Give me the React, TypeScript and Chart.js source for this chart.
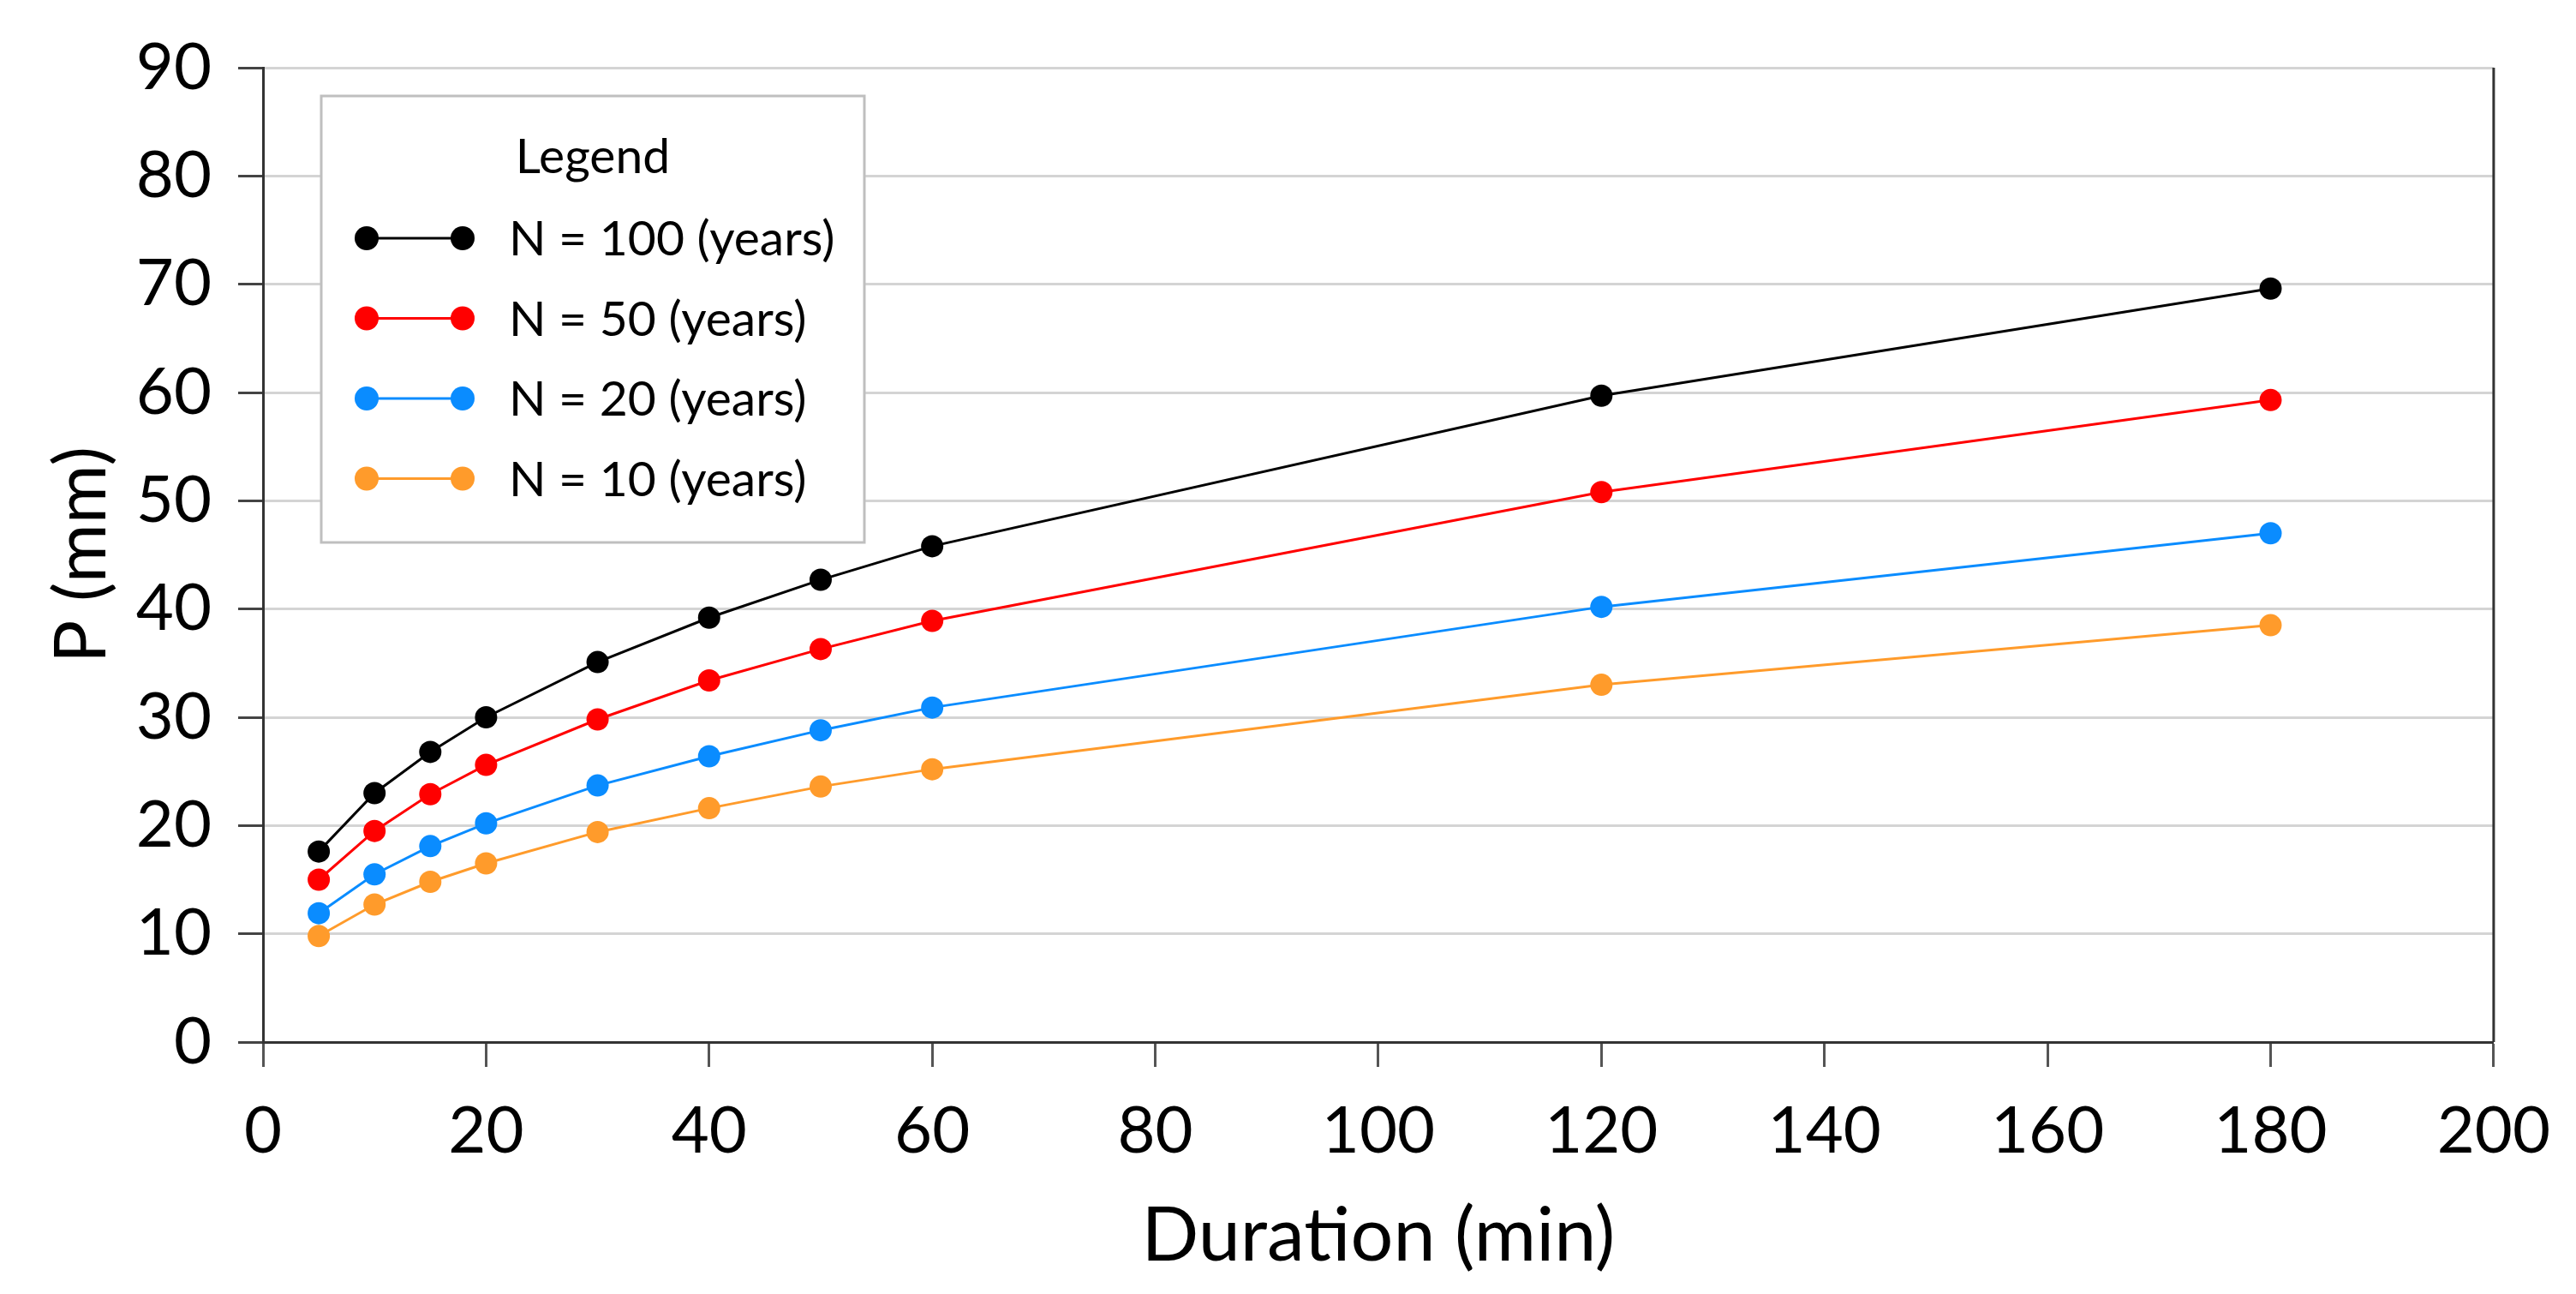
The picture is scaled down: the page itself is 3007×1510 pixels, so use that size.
import React, { useEffect, useRef } from "react";
import { Chart, registerables } from "chart.js";

Chart.register(...registerables);

// ---- data ----
const durations = [5, 10, 15, 20, 30, 40, 50, 60, 120, 180];
const p100 = [17.6, 23.0, 26.8, 30.0, 35.1, 39.2, 42.7, 45.8, 59.7, 69.6];
const p50 = [15.0, 19.5, 22.9, 25.6, 29.8, 33.4, 36.3, 38.9, 50.8, 59.3];
const p20 = [11.9, 15.5, 18.1, 20.2, 23.7, 26.4, 28.8, 30.9, 40.2, 47.0];
const p10 = [9.8, 12.7, 14.8, 16.5, 19.4, 21.6, 23.6, 25.2, 33.0, 38.5];
const seriesLabels = ["N = 100 (years)", "N = 50 (years)", "N = 20 (years)", "N = 10 (years)"];
const seriesColors = ["#000000", "#ff0000", "#0a8cff", "#ff9b2b"];
const seriesValues = [p100, p50, p20, p10];
const xTitle = "Duration (min)";
const yTitle = "P (mm)";
const legendTitle = "Legend";

const FONT = "Lato";

const legendPlugin = {
  id: "boxLegend",
  beforeDatasetsDraw(chart: any) {
    const { ctx, chartArea } = chart;
    const left = chartArea.left + 68;
    const top = chartArea.top + 33;
    const w = 634;
    const h = 521;
    ctx.save();
    ctx.fillStyle = "#ffffff";
    ctx.fillRect(left, top, w, h);
    ctx.strokeStyle = "#bfbfbf";
    ctx.lineWidth = 3;
    ctx.strokeRect(left, top, w, h);
    ctx.fillStyle = "#000";
    ctx.textBaseline = "middle";
    ctx.textAlign = "center";
    ctx.font = `57px ${FONT}`;
    ctx.fillText(legendTitle, left + w / 2, top + 72);
    ctx.textAlign = "left";
    chart.data.datasets.forEach((ds: any, i: number) => {
      const y = top + 166 + i * 93.5;
      const x1 = left + 53;
      const x2 = left + 165;
      ctx.strokeStyle = ds.borderColor;
      ctx.lineWidth = 3;
      ctx.beginPath();
      ctx.moveTo(x1, y);
      ctx.lineTo(x2, y);
      ctx.stroke();
      ctx.fillStyle = ds.pointBackgroundColor;
      [x1, x2].forEach((x) => {
        ctx.beginPath();
        ctx.arc(x, y, 14, 0, Math.PI * 2);
        ctx.fill();
      });
      ctx.fillStyle = "#000";
      ctx.fillText(ds.label, left + 219, y + 2);
    });
    ctx.restore();
  },
};

const rightBorder = {
  id: "rightBorder",
  afterDraw(chart: any) {
    const { ctx, chartArea } = chart;
    ctx.save();
    ctx.strokeStyle = "#333";
    ctx.lineWidth = 3;
    ctx.beginPath();
    ctx.moveTo(chartArea.right, chartArea.top);
    ctx.lineTo(chartArea.right, chartArea.bottom);
    ctx.stroke();
    ctx.restore();
  },
};

export default function App() {
  const ref = useRef<HTMLCanvasElement | null>(null);
  useEffect(() => {
    document.body.style.margin = "0";
    if (!ref.current) return;
    const chart = new Chart(ref.current, {
      type: "line",
      data: {
        datasets: seriesValues.map((vals, i) => ({
          label: seriesLabels[i],
          data: durations.map((d, j) => ({ x: d, y: vals[j] })),
          borderColor: seriesColors[i],
          backgroundColor: seriesColors[i],
          pointBackgroundColor: seriesColors[i],
          pointBorderWidth: 0,
          pointRadius: 13,
          borderWidth: 3,
          tension: 0,
          fill: false,
        })),
      },
      options: {
        animation: false,
        responsive: false,
        devicePixelRatio: 1,
        layout: { padding: { top: 79, right: 83, left: 0, bottom: 0 } },
        plugins: { legend: { display: false }, tooltip: { enabled: false } },
        scales: {
          x: {
            type: "linear",
            min: 0,
            max: 200,
            ticks: { stepSize: 20, color: "#000", font: { family: FONT, size: 76 }, padding: 30 },
            grid: { drawOnChartArea: false, drawTicks: true, tickLength: 29, tickColor: "#555", tickWidth: 3 },
            border: { color: "#333", width: 3 },
            title: { display: true, text: xTitle, color: "#000", font: { family: FONT, size: 88 }, padding: { top: 0, bottom: 15 } },
            afterFit: (s: any) => { s.height = 294; },
          },
          y: {
            type: "linear",
            min: 0,
            max: 90,
            ticks: { stepSize: 10, color: "#000", font: { family: FONT, size: 76 }, padding: 31 },
            grid: { color: "#d4d4d4", lineWidth: 3, drawTicks: true, tickLength: 29, tickColor: "#444", tickWidth: 3 },
            border: { color: "#333", width: 3 },
            title: { display: true, text: yTitle, color: "#000", font: { family: FONT, size: 84 }, padding: { top: 46, bottom: 0 } },
            afterFit: (s: any) => { s.width = 307; },
          },
        },
      },
      plugins: [legendPlugin, rightBorder],
    } as any);
    return () => chart.destroy();
  }, []);
  return <canvas ref={ref} width={3007} height={1510} style={{ display: "block" }} />;
}
